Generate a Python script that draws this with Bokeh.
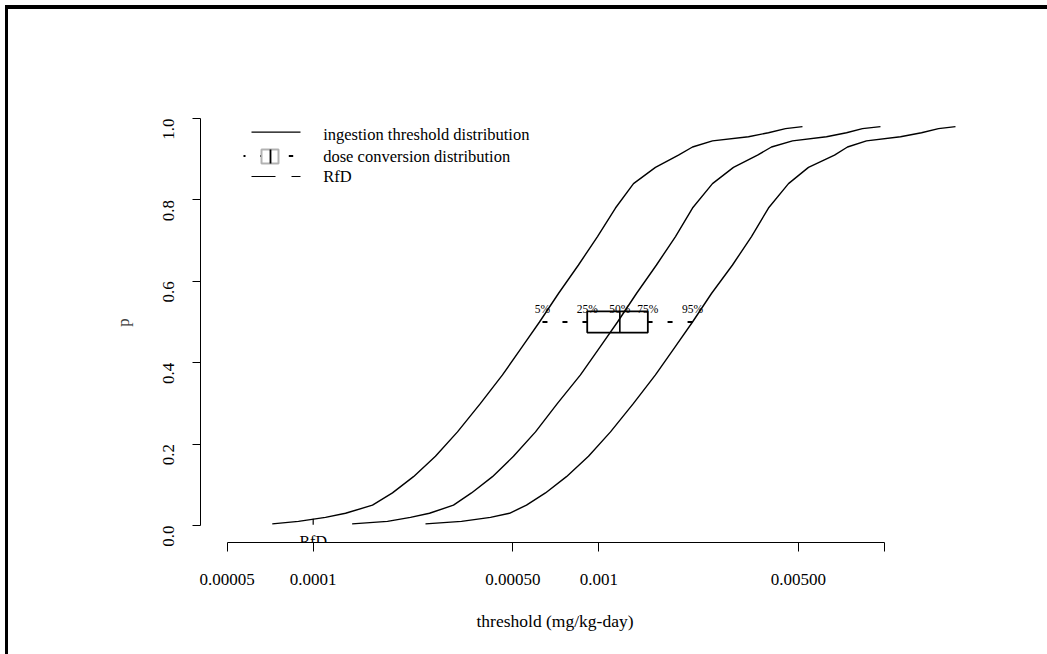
import numpy as np
from bokeh.plotting import figure
from bokeh.models import Range1d, FixedTicker, BoxAnnotation, Arrow, Title, Label, InlineStyleSheet
from bokeh.core.properties import value
from bokeh.embed import file_html
from bokeh.resources import INLINE

# ---------------- data ----------------
p_levels = [0.004, 0.01, 0.02, 0.03, 0.05, 0.08, 0.12, 0.17, 0.23, 0.30, 0.37, 0.44, 0.50,
            0.57, 0.64, 0.71, 0.78, 0.84, 0.88, 0.91, 0.93, 0.945, 0.955, 0.965, 0.975, 0.98]
thr_low = [7.19e-5, 8.88e-5, 1.104e-4, 1.298e-4, 1.613e-4, 1.895e-4, 2.245e-4, 2.680e-4, 3.201e-4,
           3.853e-4, 4.601e-4, 5.405e-4, 6.200e-4, 7.225e-4, 8.489e-4, 9.896e-4, 1.144e-3, 1.323e-3,
           1.579e-3, 1.901e-3, 2.129e-3, 2.501e-3, 3.343e-3, 3.928e-3, 4.506e-3, 5.167e-3]
thr_mid = [1.369e-4, 1.820e-4, 2.191e-4, 2.554e-4, 3.099e-4, 3.584e-4, 4.244e-4, 5.028e-4, 6.004e-4,
           7.167e-4, 8.627e-4, 1.014e-3, 1.163e-3, 1.355e-3, 1.592e-3, 1.856e-3, 2.129e-3, 2.501e-3,
           2.962e-3, 3.596e-3, 4.024e-3, 4.768e-3, 6.270e-3, 7.369e-3, 8.381e-3, 9.690e-3]
thr_high = [2.473e-4, 3.306e-4, 4.176e-4, 4.868e-4, 5.582e-4, 6.507e-4, 7.706e-4, 9.204e-4, 1.099e-3,
            1.323e-3, 1.579e-3, 1.856e-3, 2.129e-3, 2.481e-3, 2.939e-3, 3.425e-3, 3.928e-3, 4.616e-3,
            5.423e-3, 6.689e-3, 7.427e-3, 8.656e-3, 1.139e-2, 1.349e-2, 1.547e-2, 1.774e-2]

box_labels = ["5%", "25%", "50%", "75%", "95%"]
box_stats = [0.000635, 0.000911, 0.001185, 0.001485, 0.00213]
box_p = 0.5
rfd_value = 0.0001
rfd_label = "RfD"

x_ticks = [0.00005, 0.0001, 0.0005, 0.001, 0.005, 0.01]
x_tick_labels = ["0.00005", "0.0001", "0.00050", "0.001", "0.00500", ""]
y_ticks = [0.0, 0.2, 0.4, 0.6, 0.8, 1.0]
y_tick_labels = ["0.0", "0.2", "0.4", "0.6", "0.8", "1.0"]
legend_labels = ["ingestion threshold distribution", "dose conversion distribution", "RfD"]
x_title = "threshold (mg/kg-day)"
y_title = "p"

# ---------------- styling / layout ----------------
FONT = "Liberation Serif"
W, H = 1047, 654
BL, BR, BT, BB = 200, 77, 102, 112
box_half = 0.026

p = figure(width=W, height=H, x_axis_type="log",
           x_range=Range1d(4.031e-5, 0.020024), y_range=Range1d(-0.0418, 1.0393),
           output_backend="svg", toolbar_location=None,
           min_border_left=BL, min_border_right=BR, min_border_top=BT, min_border_bottom=BB)
# device box (top and left edges visible, as in the original page)
p.stylesheets = [InlineStyleSheet(css=":host { box-shadow: inset 5px 5px 0px 0px white, "
                                      "inset 8px 9px 0px 0px black; background-color: white; }")]
p.outline_line_color = None
p.grid.visible = False
p.background_fill_color = "white"
p.border_fill_color = None

xa = p.xaxis[0]
xa.ticker = FixedTicker(ticks=x_ticks, minor_ticks=[])
xa.major_label_overrides = {t: l for t, l in zip(x_ticks, x_tick_labels)}
xa.bounds = (x_ticks[0], x_ticks[-1])
xa.axis_line_color = "black"
xa.axis_line_width = 1
xa.major_tick_line_color = "black"
xa.major_tick_out = 9
xa.major_tick_in = 0
xa.minor_tick_line_color = None
xa.major_label_standoff = 22
xa.major_label_text_font = FONT
xa.major_label_text_font_size = "17px"
xa.major_label_text_color = "black"

ya = p.yaxis[0]
ya.ticker = FixedTicker(ticks=y_ticks, minor_ticks=[])
ya.major_label_overrides = {t: l for t, l in zip(y_ticks, y_tick_labels)}
ya.bounds = (y_ticks[0], y_ticks[-1])
ya.axis_line_color = "black"
ya.major_tick_line_color = "black"
ya.major_tick_out = 8
ya.major_tick_in = 0
ya.minor_tick_line_color = None
ya.major_label_orientation = np.pi / 2
ya.major_label_standoff = 24
ya.major_label_text_font = FONT
ya.major_label_text_font_size = "17px"
ya.major_label_text_color = "black"
ya.axis_label = y_title
ya.axis_label_text_font = FONT
ya.axis_label_text_font_size = "17px"
ya.axis_label_text_font_style = "normal"
ya.axis_label_standoff = 22

# x axis title, placed like R's (centered on R's plot region)
p.add_layout(Title(text=x_title, align="left", offset=276, standoff=42, text_font=FONT,
                   text_font_size="17.5px", text_font_style="normal", text_color="black"), "below")

# curves
for xs in (thr_low, thr_mid, thr_high):
    p.line(xs, p_levels, line_color="black", line_width=1.4)

# dose conversion box
p.quad(left=[box_stats[1]], right=[box_stats[3]], bottom=[box_p - box_half], top=[box_p + box_half],
       fill_color=None, line_color="black", line_width=1.8)
p.segment(x0=[box_stats[2]], y0=[box_p - box_half], x1=[box_stats[2]], y1=[box_p + box_half],
          line_color="black", line_width=1.6)
p.segment(x0=[box_stats[0], box_stats[4]], y0=[box_p, box_p], x1=[box_stats[1], box_stats[3]], y1=[box_p, box_p],
          line_color="black", line_width=2.2, line_dash="5 15")
p.text(x=box_stats, y=[box_p] * len(box_stats), text=box_labels, text_font=value(FONT),
       text_font_size="11.5px", text_align="center", text_baseline="alphabetic", y_offset=-13,
       text_color="black")

# RfD marker: short upward tick with its label below
p.segment(x0=[rfd_value], y0=[0.002], x1=[rfd_value], y1=[0.0165], line_color="black", line_width=1.2)
p.text(x=[rfd_value], y=[0.0], text=[rfd_label], text_font=value(FONT), text_font_size="16px",
       text_align="center", text_baseline="alphabetic", y_offset=16.5, text_color="black")

# legend (screen units relative to frame bottom-left)
def seg(x0, y0, x1, y1, dash="solid", w=1.2):
    p.add_layout(Arrow(end=None, x_start=x0, y_start=y0, x_end=x1, y_end=y1,
                       start_units="screen", end_units="screen", line_color="black",
                       line_width=w, line_dash=dash))

seg(51, 410.3, 100, 410.3)
seg(43, 386.5, 60.5, 386.5, dash="2 15", w=2)
seg(88.3, 386.5, 92.7, 386.5, w=2)
p.add_layout(BoxAnnotation(left=61, right=78, bottom=379, top=393, left_units="screen",
                           right_units="screen", bottom_units="screen", top_units="screen",
                           fill_color=None, fill_alpha=0, line_color="black", line_width=2))
seg(70, 379, 70, 393, w=1.8)
seg(51, 366, 100, 366, dash="24 16")
for lab, sy in zip(legend_labels, [408, 385.7, 366.5]):
    p.add_layout(Label(x=122.7, y=sy, x_units="screen", y_units="screen", text=lab, text_font=FONT,
                       text_font_size="16.5px", text_align="left", text_baseline="middle",
                       text_color="black"))

open("out.html", "w").write(file_html(p, INLINE))
